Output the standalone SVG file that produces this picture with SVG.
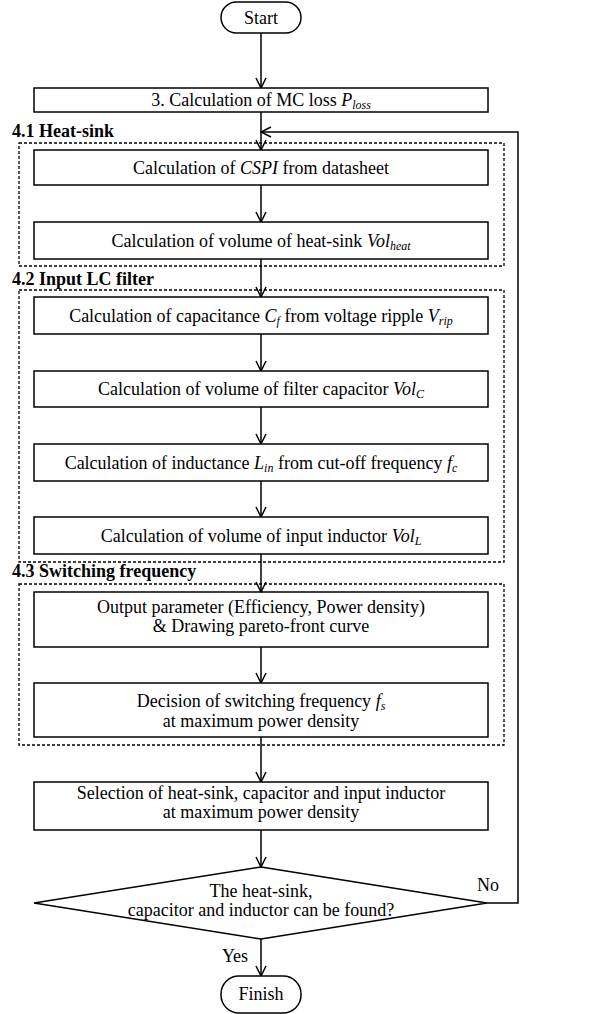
<svg xmlns="http://www.w3.org/2000/svg" width="593" height="1014" viewBox="0 0 593 1014">
<style>
.box{fill:#fff;stroke:#000;stroke-width:1.5}
.grp{fill:none;stroke:#000;stroke-width:1.3;stroke-dasharray:3,2}
.t{font-family:"Liberation Serif","Times New Roman",serif;font-size:18px;fill:#000;text-anchor:middle}
.lbl{font-family:"Liberation Serif","Times New Roman",serif;font-size:18px;font-weight:bold;fill:#000}
.i{font-style:italic}
.s{font-size:12px;font-style:italic}
.c{fill:none;stroke:#000;stroke-width:1.5}
</style>
<defs>
<marker id="ah" viewBox="0 0 12 12" refX="11" refY="6" markerWidth="12" markerHeight="12" markerUnits="userSpaceOnUse" orient="auto">
<path d="M1,1 L11,6 L1,11" fill="none" stroke="#000" stroke-width="1.5"/>
</marker>
</defs>
<g id="groups">
<rect class="grp" x="19" y="143" width="485" height="123"/>
<text class="lbl" x="12" y="137">4.1 Heat-sink</text>
<rect class="grp" x="19" y="290" width="485" height="272"/>
<text class="lbl" x="12" y="285">4.2 Input LC filter</text>
<rect class="grp" x="19" y="584" width="485" height="161"/>
<text class="lbl" x="12" y="577">4.3 Switching frequency</text>
</g>
<g id="connectors">
<line class="c" x1="261" y1="33" x2="261" y2="88" marker-end="url(#ah)"/>
<line class="c" x1="261" y1="112" x2="261" y2="150" marker-end="url(#ah)"/>
<line class="c" x1="261" y1="185" x2="261" y2="222" marker-end="url(#ah)"/>
<line class="c" x1="261" y1="259" x2="261" y2="297" marker-end="url(#ah)"/>
<line class="c" x1="261" y1="334" x2="261" y2="371" marker-end="url(#ah)"/>
<line class="c" x1="261" y1="407" x2="261" y2="444" marker-end="url(#ah)"/>
<line class="c" x1="261" y1="481" x2="261" y2="517" marker-end="url(#ah)"/>
<line class="c" x1="261" y1="554" x2="261" y2="592" marker-end="url(#ah)"/>
<line class="c" x1="261" y1="647" x2="261" y2="683" marker-end="url(#ah)"/>
<line class="c" x1="261" y1="737" x2="261" y2="782" marker-end="url(#ah)"/>
<line class="c" x1="261" y1="830" x2="261" y2="867" marker-end="url(#ah)"/>
<line class="c" x1="261" y1="939" x2="261" y2="976" marker-end="url(#ah)"/>
<polyline class="c" points="487,903 518,903 518,132 261,132" marker-end="url(#ah)"/>
<text class="t" x="488" y="891">No</text>
<text class="t" x="235" y="962">Yes</text>
</g>
<g id="start">
<rect class="box" x="221" y="2" width="80" height="31" rx="15.5"/>
<text class="t" x="261" y="24">Start</text>
</g>
<g id="loss">
<rect class="box" x="34" y="88" width="454" height="24"/>
<text class="t" x="261" y="106">3. Calculation of MC loss <tspan class="i">P</tspan><tspan class="s" dy="3">loss</tspan></text>
</g>
<g id="cspi">
<rect class="box" x="34" y="150" width="454" height="35"/>
<text class="t" x="261" y="174">Calculation of <tspan class="i">CSPI</tspan> from datasheet</text>
</g>
<g id="volheat">
<rect class="box" x="34" y="222" width="454" height="37"/>
<text class="t" x="261" y="247">Calculation of volume of heat-sink <tspan class="i">Vol</tspan><tspan class="s" dy="3">heat</tspan></text>
</g>
<g id="cf">
<rect class="box" x="34" y="297" width="454" height="37"/>
<text class="t" x="261" y="322">Calculation of capacitance <tspan class="i">C</tspan><tspan class="s" dy="3">f</tspan><tspan dy="-3"> from voltage ripple </tspan><tspan class="i">V</tspan><tspan class="s" dy="3">rip</tspan></text>
</g>
<g id="volc">
<rect class="box" x="34" y="371" width="454" height="36"/>
<text class="t" x="261" y="395">Calculation of volume of filter capacitor <tspan class="i">Vol</tspan><tspan class="s" dy="3">C</tspan></text>
</g>
<g id="lin">
<rect class="box" x="34" y="444" width="454" height="37"/>
<text class="t" x="261" y="469">Calculation of inductance <tspan class="i">L</tspan><tspan class="s" dy="3">in</tspan><tspan dy="-3"> from cut-off frequency </tspan><tspan class="i">f</tspan><tspan class="s" dy="3">c</tspan></text>
</g>
<g id="voll">
<rect class="box" x="34" y="517" width="454" height="37"/>
<text class="t" x="261" y="542">Calculation of volume of input inductor <tspan class="i">Vol</tspan><tspan class="s" dy="3">L</tspan></text>
</g>
<g id="output">
<rect class="box" x="34" y="592" width="454" height="55"/>
<text class="t" x="261" y="613">Output parameter (Efficiency, Power density)</text>
<text class="t" x="261" y="632">&amp; Drawing pareto-front curve</text>
</g>
<g id="decision">
<rect class="box" x="34" y="683" width="454" height="54"/>
<text class="t" x="261" y="707">Decision of switching frequency <tspan class="i">f</tspan><tspan class="s" dy="3">s</tspan></text>
<text class="t" x="261" y="727">at maximum power density</text>
</g>
<g id="selection">
<rect class="box" x="34" y="782" width="454" height="48"/>
<text class="t" x="261" y="799">Selection of heat-sink, capacitor and input inductor</text>
<text class="t" x="261" y="818">at maximum power density</text>
</g>
<g id="found">
<polygon class="box" points="261,867 487,903 261,939 34,903"/>
<text class="t" x="261" y="897">The heat-sink,</text>
<text class="t" x="261" y="916">capacitor and inductor can be found?</text>
</g>
<g id="finish">
<rect class="box" x="221" y="976" width="80" height="37" rx="18"/>
<text class="t" x="261" y="1000">Finish</text>
</g>
</svg>
